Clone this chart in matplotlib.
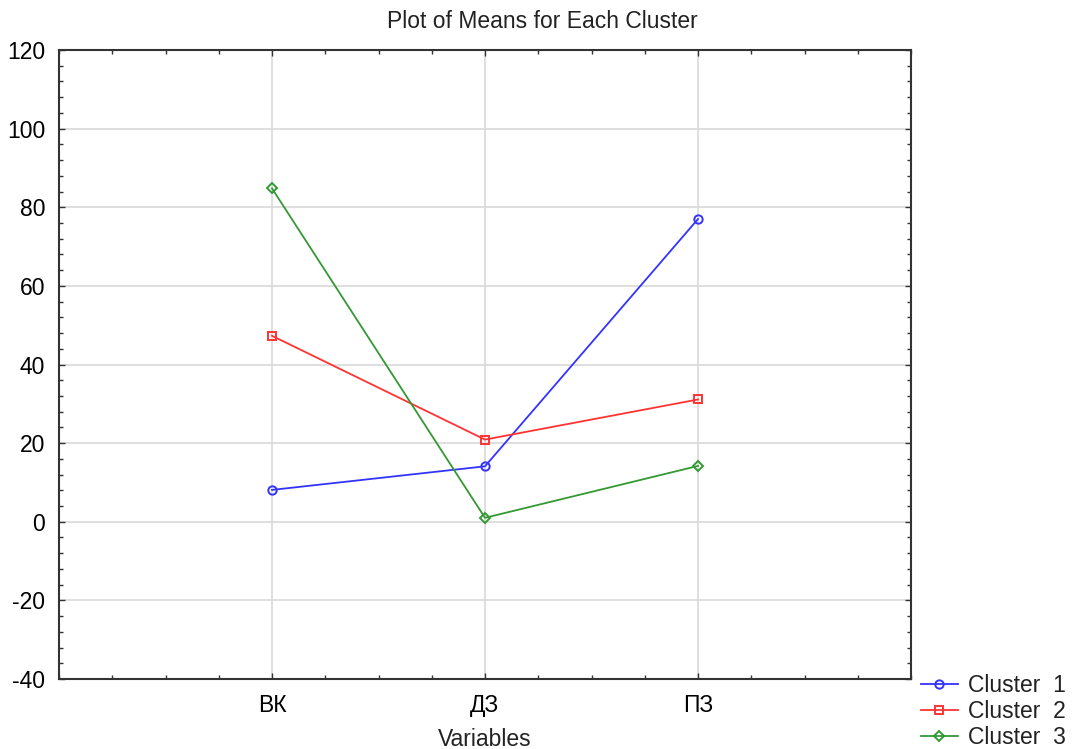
import matplotlib
matplotlib.use("Agg")
import matplotlib.pyplot as plt
from matplotlib.ticker import MultipleLocator

plt.rcParams['font.family'] = ['Liberation Sans', 'DejaVu Sans']
plt.rcParams['axes.unicode_minus'] = False

categories = ["ВК", "ДЗ", "ПЗ"]
cluster_names = ["Cluster  1", "Cluster  2", "Cluster  3"]
cluster1 = [8.1, 14.1, 77.0]
cluster2 = [47.3, 20.9, 31.1]
cluster3 = [84.8, 1.0, 14.2]
colors = ["#3333ff", "#ff3333", "#339933"]
markers = ["o", "s", "D"]

fig = plt.figure(figsize=(10.73, 7.49), dpi=100)
ax = fig.add_axes([59/1073, 1-679/749, (911-59)/1073, (679-50)/749])

x = [1, 2, 3]
for vals, name, c, m in zip([cluster1, cluster2, cluster3], cluster_names, colors, markers):
    ax.plot(x, vals, color=c, marker=m, markersize=6 if m != "D" else 5.5,
            markerfacecolor="none", markeredgewidth=1.4, linewidth=1.3, label=name)

ax.set_xlim(0, 4)
ax.set_ylim(-40, 120)
ax.set_xticks(x)
ax.set_xticklabels(categories)
ax.xaxis.set_minor_locator(MultipleLocator(0.25))
ax.yaxis.set_major_locator(MultipleLocator(20))
ax.yaxis.set_minor_locator(MultipleLocator(4))
ax.tick_params(which="both", direction="in", top=True, right=True, color="#333333")
ax.tick_params(which="major", length=4, width=1, labelsize=16.5)
ax.tick_params(axis="x", which="major", pad=11)
ax.tick_params(axis="y", which="major", pad=10)
ax.tick_params(which="minor", length=3, width=1)
ax.grid(True, which="major", color="#d9d9d9", linewidth=1.2)
ax.set_axisbelow(True)
for s in ax.spines.values():
    s.set_color("#333333")
    s.set_linewidth(1.5)

fig.text(542/1073, 1-22/749, "Plot of Means for Each Cluster", fontsize=16.5,
         ha="center", va="center", color="#222222")
fig.text(485/1073, 1-739/749, "Variables", fontsize=16.5,
         ha="center", va="center", color="#222222")

leg = fig.legend(loc="upper left", bbox_to_anchor=(921/1073, 1-674/749), frameon=False,
                 fontsize=16.5, handlelength=1.6, labelspacing=0.14, handletextpad=0.45,
                 borderaxespad=0, borderpad=0)
for t in leg.get_texts():
    t.set_color("#222222")

fig.savefig("out.png", dpi=100)
